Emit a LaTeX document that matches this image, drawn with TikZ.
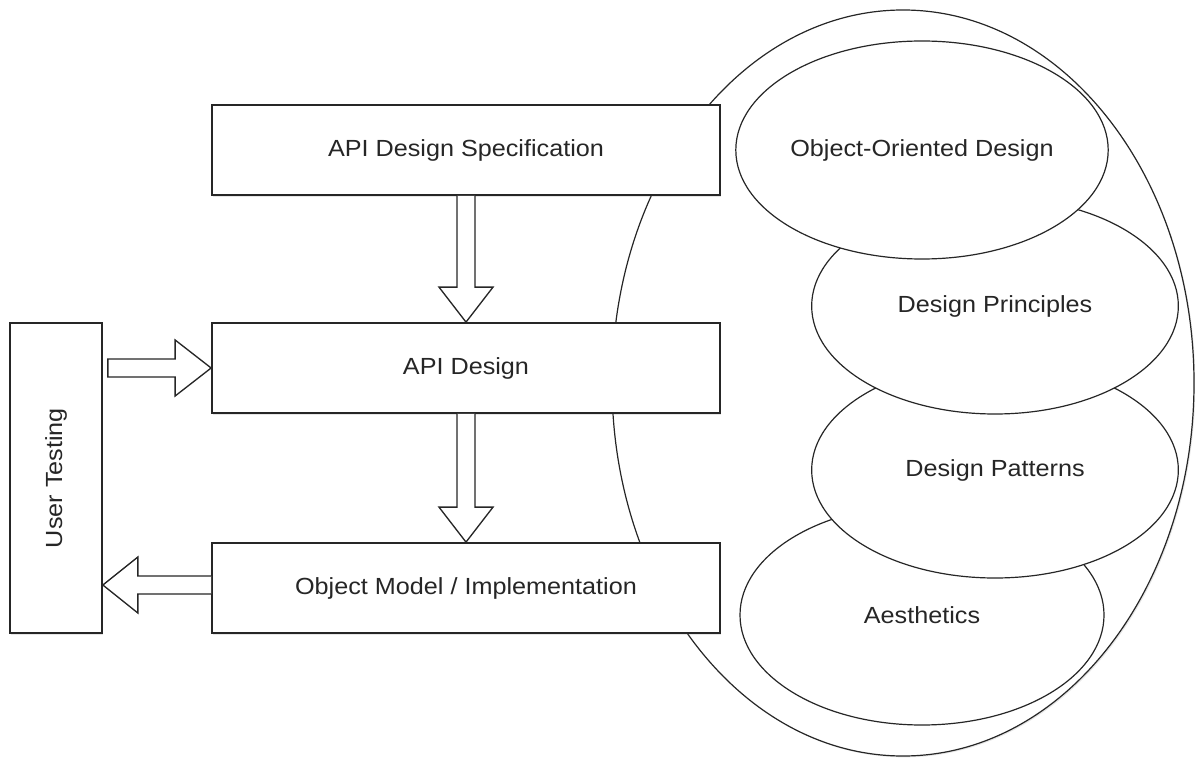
\documentclass[tikz,border=0pt]{standalone}
\usepackage{fontspec}
\setmainfont{Liberation Sans}[FakeStretch=1.08]
\usetikzlibrary{shapes.geometric,calc,shadows}
\begin{document}
\begin{tikzpicture}[x=0.75pt,y=-0.75pt,
  every node/.style={font=\fontsize{17.5}{21}\selectfont, text=black!85},
  box/.style={draw=black!85, line width=1.3pt, fill=white, minimum width=381pt, minimum height=67.5pt, inner sep=0pt,
    drop shadow={opacity=0.2, shadow xshift=1pt, shadow yshift=-1.5pt}},
  oval/.style={ellipse, draw=black!85, line width=0.9pt, fill=white, inner sep=0pt},
  blockarrow/.style={draw=black!85, line width=1pt, fill=white, line join=miter}
]
\useasboundingbox (0,0) rectangle (1195,759);

% outer ellipse
\node[oval, minimum width=436.5pt, minimum height=559.5pt,
  drop shadow={opacity=0.2, shadow xshift=1pt, shadow yshift=-1pt}] (outer) at (903,383) {};

% inner ellipses (bottom to top)
\node[oval, minimum width=273pt, minimum height=165pt] (aes) at (922,615) {Aesthetics};
\node[oval, minimum width=275pt, minimum height=162pt] (pat) at (995,470) {Design Patterns};
\node[oval, minimum width=275pt, minimum height=162pt] (pri) at (995,306) {Design Principles};
\node[oval, minimum width=273pt, minimum height=163.5pt] (ood) at (922,150) {Object-Oriented Design};

% boxes
\node[box] (spec) at (466,150) {API Design Specification};
\node[box] (api) at (466,368) {API Design};
\node[box] (obj) at (466,588) {Object Model / Implementation};
\node[box, minimum width=69pt, minimum height=232.5pt] (ut) at (56,478) {\rotatebox{90}{User Testing}};

% down arrows
\path[blockarrow] ($(spec.south)+(-9,0)$) -- ($(api.north)+(-9,-35)$) -- ($(api.north)+(-27,-35)$) -- (api.north)
  -- ($(api.north)+(27,-35)$) -- ($(api.north)+(9,-35)$) -- ($(spec.south)+(9,0)$);
\path[blockarrow] ($(api.south)+(-9,0)$) -- ($(obj.north)+(-9,-35)$) -- ($(obj.north)+(-27,-35)$) -- (obj.north)
  -- ($(obj.north)+(27,-35)$) -- ($(obj.north)+(9,-35)$) -- ($(api.south)+(9,0)$);

% right arrow: User Testing -> API Design
\coordinate (r0) at ($(ut.east |- api.west)+(5,0)$);
\path[blockarrow] ($(r0)+(0,-9)$) -- ($(api.west)+(-36,-9)$) -- ($(api.west)+(-36,-28)$) -- (api.west)
  -- ($(api.west)+(-36,28)$) -- ($(api.west)+(-36,9)$) -- ($(r0)+(0,9)$) -- cycle;

% left arrow: Object Model -> User Testing
\coordinate (o0) at ($(obj.west)+(0,-3)$);
\coordinate (l0) at (ut.east |- o0);
\path[blockarrow] ($(o0)+(0,-9)$) -- ($(l0)+(35,-9)$) -- ($(l0)+(35,-28)$) -- (l0)
  -- ($(l0)+(35,28)$) -- ($(l0)+(35,9)$) -- ($(o0)+(0,9)$);
\end{tikzpicture}
\end{document}
